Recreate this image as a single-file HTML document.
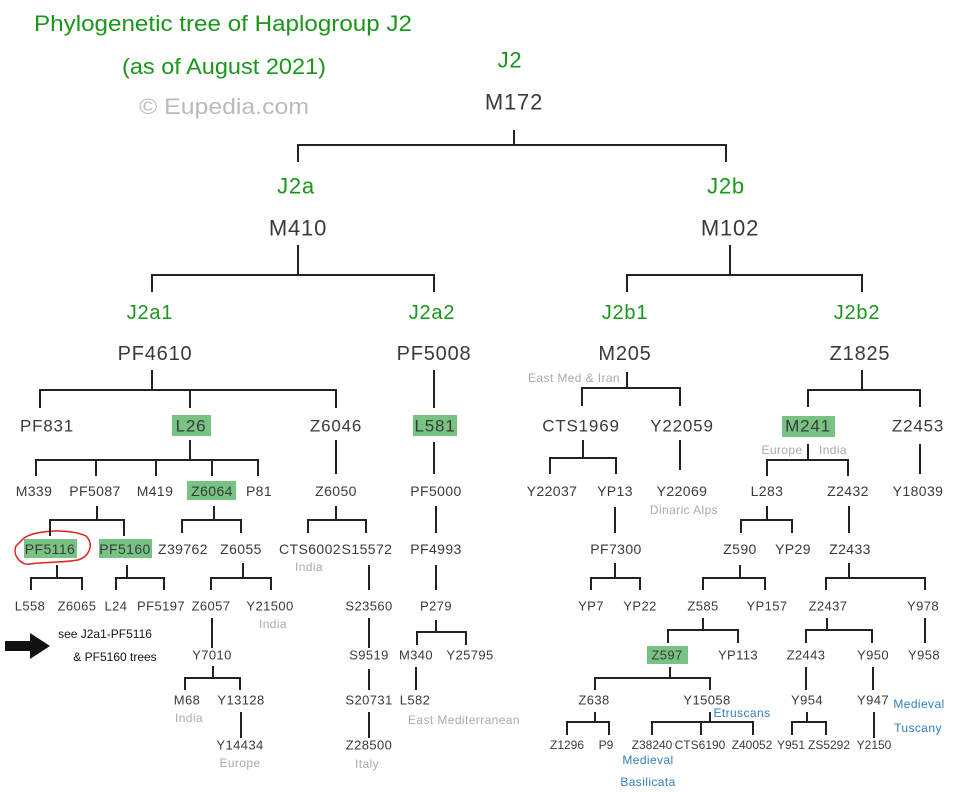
<!DOCTYPE html>
<html><head><meta charset="utf-8"><style>
html,body{margin:0;padding:0;background:#fff;}
svg{display:block;font-family:"Liberation Sans",sans-serif;}
.g{fill:#1a961a;}
.d{fill:#3a3a3a;}
.gr{fill:#aaa;}
.b{fill:#2f7fbf;}
.k{fill:#111;}
.ls{letter-spacing:0.8px;}
.ls2{letter-spacing:0.4px;}
</style></head><body>
<svg width="960" height="792" viewBox="0 0 960 792" xmlns="http://www.w3.org/2000/svg">
<g text-anchor="start">
<text x="34" y="31" class="g" font-size="22" textLength="378" lengthAdjust="spacingAndGlyphs">Phylogenetic tree of Haplogroup J2</text>
<text x="122" y="74" class="g" font-size="22" textLength="204" lengthAdjust="spacingAndGlyphs">(as of August 2021)</text>
<text x="139" y="114" font-size="22" fill="#bbb" textLength="170" lengthAdjust="spacingAndGlyphs">© Eupedia.com</text>
</g>
<g fill="#78c383">
<rect x="172" y="415" width="39" height="21"/>
<rect x="413" y="415" width="44" height="21"/>
<rect x="782" y="416" width="53" height="21"/>
<rect x="187" y="481" width="49" height="19"/>
<rect x="24" y="539" width="53" height="19"/>
<rect x="99" y="539" width="53" height="19"/>
<rect x="647" y="646" width="41" height="18"/>
</g>
<path d="M22 540 C30 530 70 528 86 536 C94 544 90 556 78 560 C60 563 40 562 30 564 C22 566 12 556 16 546 Z" fill="none" stroke="#e02020" stroke-width="1.5"/>
<g fill="none" stroke="#222" stroke-width="2">
<path d="M514 130V145M298 162V145H726V162"/>
<path d="M298 245V275M152 292V275H434V292"/>
<path d="M730 245V275M627 292V275H862V292"/>
<path d="M152 370V390M40 408V390H336V408M190 390V408"/>
<path d="M434 370V408"/>
<path d="M627 372V388M582 406V388H680V406"/>
<path d="M862 370V390M808 407V390H920V407"/>
<path d="M190 440V460M36 476V460H258V476M96 460V476M156 460V476M212 460V476"/>
<path d="M336 440V474"/><path d="M434 442V474"/>
<path d="M583 440V458M550 474V458H616V474"/>
<path d="M680 440V470"/>
<path d="M808 444V460M767 476V460H848V476"/>
<path d="M920 444V474"/>
<path d="M97 506V520M50 536V520H124V536"/>
<path d="M214 506V520M182 533V520H241V533"/>
<path d="M336 506V520M308 533V520H366V533"/>
<path d="M436 506V533"/><path d="M615 507V533"/><path d="M849 506V533"/>
<path d="M767 506V520M741 533V520H792V533"/>
<path d="M57 565V578M31 590V578H82V590"/>
<path d="M127 565V578M116 590V578H164V590"/>
<path d="M243 563V578M211 590V578H271V590"/>
<path d="M369 565V590"/><path d="M436 565V590"/>
<path d="M615 563V578M591 590V578H640V590"/>
<path d="M740 565V578M703 590V578H765V590"/>
<path d="M849 563V578M826 590V578H925V590"/>
<path d="M212 618V648"/><path d="M369 618V648"/>
<path d="M436 620V632M417 645V632H466V645"/>
<path d="M703 618V630M668 643V630H738V643"/>
<path d="M827 618V630M806 643V630H872V643"/>
<path d="M925 618V643"/>
<path d="M213 666V678M185 690V678H240V690"/>
<path d="M369 669V690"/><path d="M416 667V690"/>
<path d="M670 667V678M595 690V678H710V690"/>
<path d="M873 667V690"/><path d="M806 667V690"/>
<path d="M241 712V738"/><path d="M369 712V738"/>
<path d="M595 712V722M567 735V722H609V735"/>
<path d="M710 712V722M652 735V722H753V735M701 722V735"/>
<path d="M807 712V722M792 735V722H826V735"/>
<path d="M874 712V738"/>
</g>
<polygon points="5,641 30,641 30,633 50,646 30,659 30,651 5,651" fill="#111"/>
<g text-anchor="middle" dominant-baseline="central">
<g font-size="22" class="ls">
<text x="510" y="60" class="g">J2</text>
<text x="514" y="102" class="d">M172</text>
<text x="296" y="186" class="g">J2a</text>
<text x="298" y="228" class="d">M410</text>
<text x="726" y="186" class="g">J2b</text>
<text x="730" y="228" class="d">M102</text>
</g>
<g font-size="20" class="ls">
<text x="150" y="313" class="g">J2a1</text>
<text x="155" y="354" class="d">PF4610</text>
<text x="432" y="313" class="g">J2a2</text>
<text x="434" y="354" class="d">PF5008</text>
<text x="625" y="313" class="g">J2b1</text>
<text x="625" y="354" class="d">M205</text>
<text x="857" y="313" class="g">J2b2</text>
<text x="860" y="354" class="d">Z1825</text>
</g>
<g font-size="17" class="d ls">
<text x="47" y="426">PF831</text><text x="191" y="426">L26</text><text x="336" y="426">Z6046</text>
<text x="435" y="426">L581</text><text x="581" y="426">CTS1969</text><text x="682" y="426">Y22059</text>
<text x="808" y="426">M241</text><text x="918" y="426">Z2453</text>
</g>
<g font-size="14" class="d ls2">
<text x="34" y="491">M339</text><text x="95" y="491">PF5087</text><text x="155" y="491">M419</text>
<text x="212" y="491">Z6064</text><text x="259" y="491">P81</text><text x="336" y="491">Z6050</text>
<text x="436" y="491">PF5000</text><text x="552" y="491">Y22037</text><text x="615" y="491">YP13</text>
<text x="682" y="491">Y22069</text><text x="767" y="491">L283</text><text x="848" y="491">Z2432</text>
<text x="918" y="491">Y18039</text>
<text x="50" y="549">PF5116</text><text x="125" y="549">PF5160</text><text x="183" y="549">Z39762</text>
<text x="241" y="549">Z6055</text><text x="310" y="549">CTS6002</text><text x="367" y="549">S15572</text>
<text x="436" y="549">PF4993</text><text x="616" y="549">PF7300</text><text x="740" y="549">Z590</text>
<text x="793" y="549">YP29</text><text x="850" y="549">Z2433</text>
</g>
<g font-size="13" class="d ls2">
<text x="30" y="606">L558</text><text x="77" y="606">Z6065</text><text x="116" y="606">L24</text>
<text x="161" y="606">PF5197</text><text x="211" y="606">Z6057</text><text x="270" y="606">Y21500</text>
<text x="369" y="606">S23560</text><text x="436" y="606">P279</text><text x="591" y="606">YP7</text>
<text x="640" y="606">YP22</text><text x="703" y="606">Z585</text><text x="767" y="606">YP157</text>
<text x="828" y="606">Z2437</text><text x="923" y="606">Y978</text>
<text x="212" y="655">Y7010</text><text x="369" y="655">S9519</text><text x="416" y="655">M340</text>
<text x="470" y="655">Y25795</text><text x="667" y="655">Z597</text><text x="738" y="655">YP113</text>
<text x="806" y="655">Z2443</text><text x="873" y="655">Y950</text><text x="924" y="655">Y958</text>
<text x="187" y="700">M68</text><text x="241" y="700">Y13128</text><text x="369" y="700">S20731</text>
<text x="415" y="700">L582</text><text x="594" y="700">Z638</text><text x="707" y="700">Y15058</text>
<text x="807" y="700">Y954</text><text x="873" y="700">Y947</text>
<text x="240" y="745">Y14434</text><text x="369" y="745">Z28500</text>
</g>
<g font-size="12" class="d">
<text x="567" y="745">Z1296</text><text x="606" y="745">P9</text><text x="652" y="745">Z38240</text>
<text x="700" y="745">CTS6190</text><text x="752" y="745">Z40052</text><text x="791" y="745">Y951</text>
<text x="829" y="745">ZS5292</text><text x="874" y="745">Y2150</text>
</g>
<g font-size="12" class="k">
<text x="105" y="634">see J2a1-PF5116</text>
<text x="115" y="657">&amp; PF5160  trees</text>
</g>
<g font-size="12" class="gr ls2">
<text x="574" y="378">East Med &amp; Iran</text>
<text x="684" y="510">Dinaric Alps</text>
<text x="782" y="450">Europe</text><text x="833" y="450">India</text>
<text x="309" y="567">India</text><text x="273" y="624">India</text>
<text x="189" y="718">India</text><text x="240" y="763">Europe</text>
<text x="367" y="764">Italy</text><text x="464" y="720">East Mediterranean</text>
</g>
<g font-size="12" class="b ls2">
<text x="742" y="713">Etruscans</text>
<text x="919" y="704">Medieval</text><text x="918" y="728">Tuscany</text>
<text x="648" y="760">Medieval</text><text x="648" y="782">Basilicata</text>
</g>
</g>
</svg>
</body></html>
